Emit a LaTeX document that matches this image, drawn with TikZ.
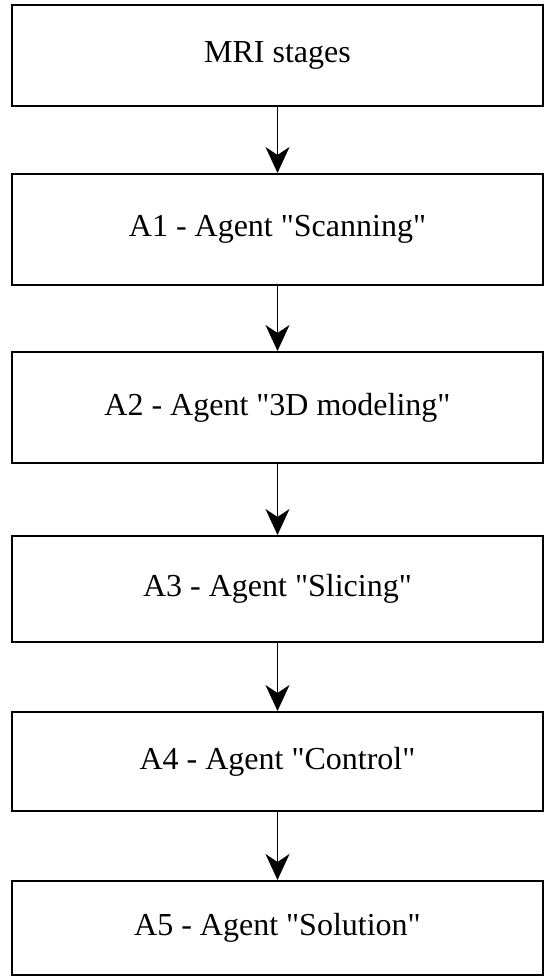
\documentclass[tikz,border=0pt]{standalone}
\usepackage{fontspec}
\setmainfont{Liberation Serif}
\usetikzlibrary{arrows.meta}
\begin{document}
\begin{tikzpicture}[x=1pt,y=-1pt,
  stagebox/.style={draw=black, line width=2pt, fill=white, minimum width=531pt, inner sep=0pt, font=\fontsize{32}{38}\selectfont},
  flowarrow/.style={line width=1.8pt, -{Stealth[length=26pt,width=24pt,inset=8pt]}}]
\useasboundingbox[fill=white] (0,0) rectangle (550,980);
\node[stagebox, minimum height=101pt] (b0) at (277.5,55.5) {MRI stages};
\node[stagebox, minimum height=111pt] (b1) at (277.5,229.5) {A1 - Agent \textquotedbl Scanning\textquotedbl};
\node[stagebox, minimum height=111pt] (b2) at (277.5,407.5) {A2 - Agent \textquotedbl 3D modeling\textquotedbl};
\node[stagebox, minimum height=106pt] (b3) at (277.5,589) {A3 - Agent \textquotedbl Slicing\textquotedbl};
\node[stagebox, minimum height=99pt] (b4) at (277.5,761.5) {A4 - Agent \textquotedbl Control\textquotedbl};
\node[stagebox, minimum height=94pt] (b5) at (277.5,928) {A5 - Agent \textquotedbl Solution\textquotedbl};
\draw[flowarrow] (b0.south) -- (b1.north);
\draw[flowarrow] (b1.south) -- (b2.north);
\draw[flowarrow] (b2.south) -- (b3.north);
\draw[flowarrow] (b3.south) -- (b4.north);
\draw[flowarrow] (b4.south) -- (b5.north);
\end{tikzpicture}
\end{document}
